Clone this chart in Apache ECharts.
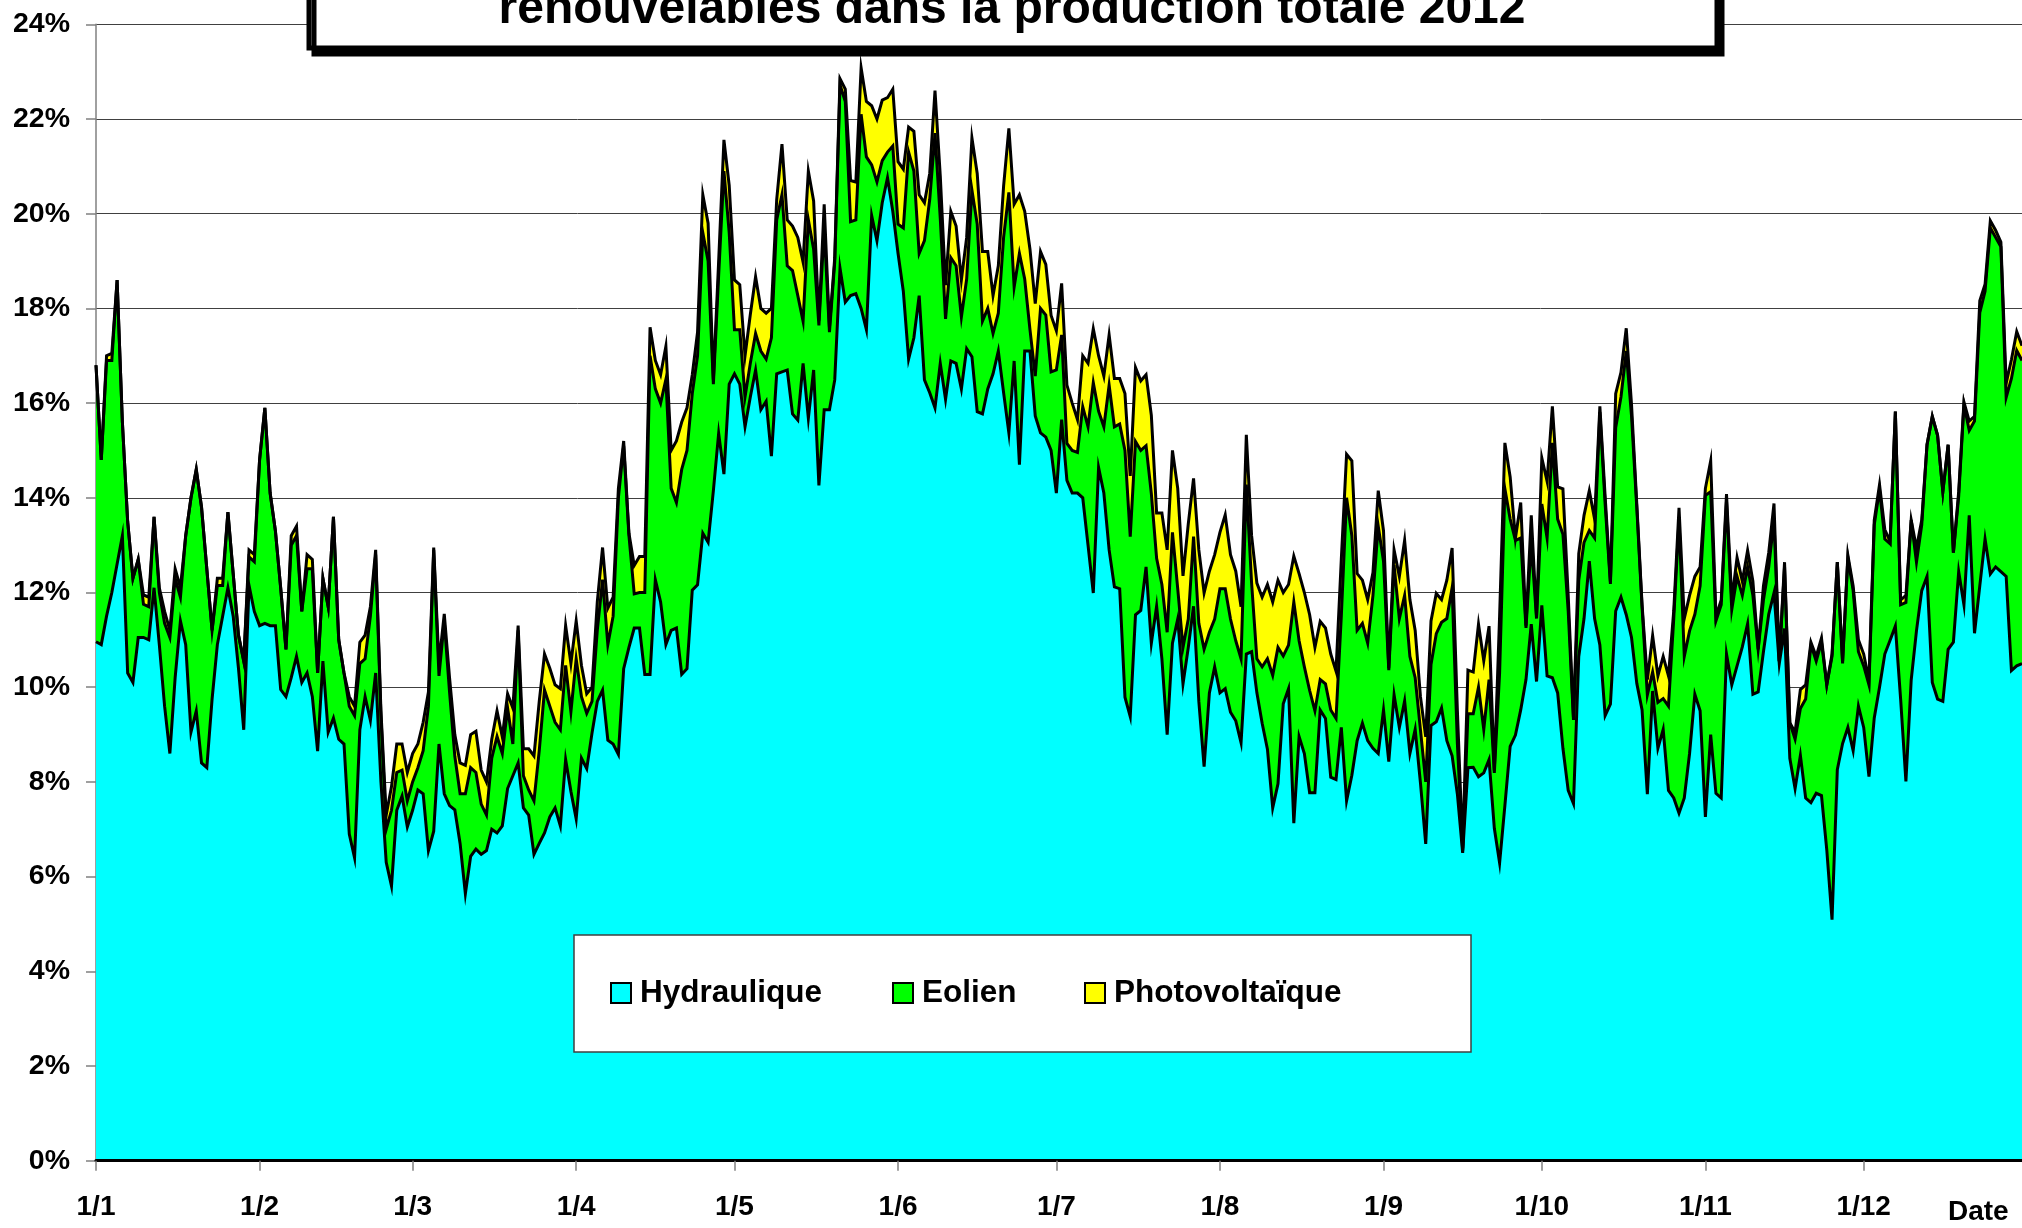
<!DOCTYPE html>
<html>
<head>
<meta charset="utf-8">
<script src="https://cdn.jsdelivr.net/npm/echarts@6/dist/echarts.min.js"></script>
<style>
  html, body { margin: 0; padding: 0; background: #fff; }
  #chart { width: 2022px; height: 1228px; }
</style>
</head>
<body>
<div id="chart"></div>
<script>
// daily share of each source in total production, 2012 (%), 1 Jan -> 31 Dec
const hydro = [
  10.96,10.90,11.50,12.00,12.60,13.20,10.30,10.10,11.05,11.05,
  11.00,12.10,10.90,9.60,8.60,10.20,11.40,10.90,9.05,9.50,
  8.40,8.30,9.75,10.90,11.50,12.10,11.50,10.40,9.10,12.15,
  11.60,11.30,11.35,11.30,11.30,9.95,9.80,10.20,10.65,10.10,
  10.30,9.80,8.65,10.55,9.05,9.35,8.90,8.80,6.90,6.40,
  9.10,9.80,9.30,10.30,8.00,6.30,5.80,7.40,7.70,7.05,
  7.40,7.83,7.75,6.55,6.96,8.80,7.75,7.50,7.41,6.70,
  5.64,6.43,6.58,6.47,6.55,7.00,6.92,7.07,7.86,8.13,
  8.40,7.45,7.30,6.47,6.70,6.92,7.26,7.45,7.07,8.47,
  7.80,7.22,8.50,8.28,9.03,9.70,9.94,8.88,8.80,8.58,
  10.39,10.84,11.25,11.25,10.27,10.27,12.27,11.80,10.90,11.20,
  11.25,10.27,10.39,12.05,12.16,13.25,13.06,14.15,15.36,14.50,
  16.40,16.62,16.40,15.50,16.13,16.70,15.86,16.04,14.88,16.62,
  16.66,16.70,15.77,15.64,16.84,15.68,16.70,14.26,15.86,15.86,
  16.49,18.85,18.13,18.27,18.31,18.00,17.55,19.96,19.43,20.23,
  20.76,20.05,19.16,18.36,16.93,17.38,18.27,16.49,16.22,15.90,
  16.84,16.08,16.89,16.84,16.30,17.15,16.98,15.82,15.77,16.30,
  16.62,17.10,16.22,15.37,16.89,14.70,17.10,17.10,15.73,15.37,
  15.28,15.00,14.10,15.65,14.37,14.10,14.10,14.00,13.00,11.99,
  14.64,14.10,12.90,12.12,12.08,9.79,9.38,11.53,11.62,12.54,
  10.93,11.71,10.60,9.00,10.93,11.44,10.07,10.84,11.71,9.70,
  8.32,9.88,10.43,9.88,9.97,9.47,9.29,8.83,10.70,10.75,
  9.88,9.24,8.69,7.45,7.96,9.65,9.97,7.13,8.96,8.60,
  7.77,7.77,9.52,9.34,8.10,8.05,9.15,7.60,8.14,8.87,
  9.24,8.87,8.71,8.60,9.52,8.43,9.84,9.15,9.71,8.60,
  9.11,7.98,6.69,9.19,9.27,9.56,8.87,8.55,7.74,6.50,
  8.30,8.31,8.11,8.19,8.47,7.02,6.29,7.50,8.75,8.99,
  9.52,10.16,11.33,10.12,11.73,10.24,10.20,9.88,8.71,7.82,
  7.54,10.65,11.45,12.66,11.45,10.89,9.40,9.64,11.61,11.90,
  11.53,11.05,10.08,9.52,7.74,9.92,8.71,9.11,7.82,7.66,
  7.34,7.66,8.60,9.85,9.50,7.26,9.00,7.76,7.66,10.70,
  10.05,10.45,10.85,11.34,9.85,9.90,10.75,11.54,11.99,10.50,
  11.24,8.50,7.86,8.56,7.66,7.56,7.76,7.71,6.57,5.09,
  8.26,8.81,9.15,8.66,9.60,9.15,8.11,9.35,10.00,10.70,
  10.99,11.29,9.75,8.01,10.15,11.19,12.04,12.34,10.10,9.75,
  9.70,10.80,10.95,12.44,11.74,13.63,11.14,12.14,13.13,12.39,
  12.54,12.44,12.34,10.35,10.45,10.50
];
const eolien = [
  5.84,3.90,5.40,4.90,6.00,2.40,3.20,2.20,1.65,0.70,
  0.70,1.50,1.10,1.75,2.45,2.10,0.50,2.30,4.95,5.10,
  5.40,4.20,1.45,1.25,0.65,1.60,0.90,0.70,1.45,0.60,
  1.05,3.50,4.55,2.80,2.00,2.15,1.00,2.80,2.55,1.50,
  2.20,2.70,1.65,1.75,2.65,4.25,2.10,1.50,2.70,3.00,
  1.40,0.80,2.20,2.50,1.40,0.70,1.60,0.80,0.55,0.55,
  0.60,0.47,0.91,3.05,5.94,1.44,3.65,2.40,1.13,1.05,
  2.11,1.87,1.62,1.06,0.75,1.50,2.04,1.53,1.70,0.67,
  2.80,0.68,0.53,1.13,1.96,3.02,2.34,1.81,2.03,1.99,
  1.68,3.38,1.30,1.17,0.67,1.50,2.33,2.02,2.70,5.42,
  4.71,2.36,0.72,0.75,1.73,6.73,4.03,4.20,5.60,3.00,
  2.65,4.33,4.61,4.15,4.84,6.35,5.94,2.25,3.34,6.40,
  3.20,0.93,1.15,0.63,0.71,0.77,1.24,0.89,2.50,3.25,
  3.74,2.20,3.03,2.63,0.89,4.19,2.55,3.38,3.84,1.64,
  2.49,3.87,4.24,1.56,1.56,4.10,3.65,1.07,1.24,0.89,
  0.54,1.38,0.62,1.34,4.37,3.52,0.89,2.94,4.08,5.80,
  3.06,1.70,2.18,2.06,1.52,1.47,3.52,3.96,1.96,1.70,
  0.85,0.80,3.28,5.08,1.56,4.46,1.52,0.45,0.84,2.63,
  2.58,1.66,2.60,1.79,0.78,0.90,0.86,1.92,2.50,4.44,
  1.19,1.40,3.48,3.38,3.48,5.21,3.80,3.66,3.38,2.56,
  3.16,1.01,1.57,2.16,2.34,0.64,0.77,0.60,1.47,1.65,
  2.48,1.28,1.01,2.20,2.11,1.97,1.69,1.77,3.58,1.45,
  0.72,1.19,1.91,2.80,2.88,1.01,0.92,4.67,2.02,1.83,
  2.16,1.73,0.64,0.73,1.42,1.29,2.35,6.40,5.06,2.33,
  2.11,2.06,3.23,4.80,3.14,1.93,2.74,2.30,2.23,2.05,
  1.09,1.12,1.31,1.29,1.86,1.81,2.58,3.55,1.06,0.05,
  1.14,1.13,1.89,0.92,1.69,1.17,4.01,6.69,4.80,4.11,
  3.63,1.09,1.73,1.33,2.14,2.91,4.96,3.67,4.52,3.79,
  1.77,1.61,1.61,0.65,1.70,4.92,4.47,2.54,3.87,4.23,
  5.57,4.68,3.71,2.17,2.10,0.40,0.97,0.65,1.78,3.79,
  6.21,2.99,2.59,1.69,2.64,6.79,5.13,3.64,4.08,3.23,
  1.59,1.89,1.09,1.20,2.09,0.90,1.09,1.00,1.54,0.05,
  1.30,0.75,1.04,0.99,2.09,3.34,2.79,3.24,3.48,5.56,
  4.38,1.69,3.59,3.38,1.15,1.30,1.94,4.08,4.18,2.43,
  2.04,4.53,1.99,3.78,3.38,1.45,1.39,2.78,5.62,5.57,
  4.43,4.32,1.89,1.59,4.23,1.79,4.48,5.77,5.23,7.31,
  6.96,6.86,3.78,6.17,6.66,6.40
];
const photovoltaique = [
  0,0,0.10,0.15,0,0,0,0,0,0.20,
  0.20,0,0.10,0.25,0.15,0.20,0.20,0,0,0,
  0,0,0,0.15,0.15,0,0,0,0,0.15,
  0.15,0,0,0,0,0,0,0.20,0.20,0,
  0.30,0.20,0,0,0,0,0,0,0.20,0.20,
  0.45,0.50,0.20,0.10,0.10,0.30,0.50,0.60,0.55,0.60,
  0.60,0.50,0.60,0.30,0.05,0.26,0.15,0.30,0.46,0.65,
  0.60,0.70,0.87,0.72,0.70,0.40,0.54,0.35,0.30,0.76,
  0.10,0.57,0.87,0.95,1.04,0.76,0.80,0.79,0.87,0.84,
  1.02,0.80,0.66,0.41,0.30,0.60,0.68,0.77,0.40,0.20,
  0.10,0.05,0.60,0.76,0.76,0.60,0.60,0.60,0.70,0.80,
  1.30,1.00,0.90,0.40,0.50,0.80,0.80,0.10,0.30,0.66,
  1.00,1.05,0.95,0.87,1.03,1.20,0.90,0.97,0.62,0.43,
  1.07,0.97,0.94,1.23,1.25,1.03,1.02,0.10,0.50,0.10,
  0.09,0.13,0.26,0.87,0.80,0.98,1.17,1.25,1.33,1.28,
  1.15,1.20,1.32,1.24,0.53,0.84,1.24,0.80,0.55,0.90,
  0.90,0.71,0.98,0.84,0.78,0.88,1.10,1.07,1.47,1.20,
  0.80,1.00,1.08,1.35,1.75,1.24,1.43,1.70,1.53,1.20,
  1.07,1.19,0.83,1.09,1.23,1.00,0.69,1.08,1.34,1.14,
  1.17,1.07,1.06,1.02,0.96,1.20,1.28,1.56,1.47,1.50,
  1.65,0.96,1.51,1.74,1.73,2.12,1.51,2.01,1.23,1.55,
  1.19,1.29,1.36,1.19,1.56,1.36,1.47,1.10,1.05,1.00,
  1.60,1.47,1.57,1.55,1.42,1.34,1.28,0.97,1.42,1.57,
  1.60,1.34,1.23,1.18,1.18,1.00,1.20,0.92,1.58,1.20,
  0.91,0.92,0.48,0.75,0.64,0.04,0.32,0.89,1.16,1.20,
  1.00,0.70,0.95,0.92,0.85,0.48,0.81,0.84,0.70,0.05,
  0.92,0.88,1.33,1.45,1.13,0.05,1.20,0.97,0.89,0.05,
  0.75,0.05,0.57,0.05,0.97,1.20,0.77,0.68,0.96,0.33,
  0.05,0.56,0.57,0.84,0.40,0.12,0.16,0.05,0.72,0.52,
  0.48,0.24,0.08,0.05,0.32,0.77,0.56,0.89,0.64,0.16,
  0.24,0.80,0.75,0.80,0.40,0.15,0.65,0.10,0.10,0.15,
  0.20,0.40,0.30,0.35,0.30,0,0.30,0.30,0.35,0,
  0.10,0,0.15,0.40,0.30,0.05,0.10,0.09,0,0.05,
  0,0.05,0.05,0.10,0.25,0.25,0.10,0.10,0.10,0.20,
  0.05,0,0.10,0.15,0,0.30,0.10,0,0,0,
  0,0,0,0.10,0.05,0.20,0.10,0.25,0.15,0.15,
  0.15,0.10,0.30,0.40,0.40,0.31
];

// one category per day, labelled "jour/mois"
const days = [];
for (let d = 0; d < 366; d++) {
  const t = new Date(2012, 0, 1 + d);
  days.push(t.getDate() + '/' + (t.getMonth() + 1));
}
const monthStart = (i, v) => v.startsWith('1/');

const FONT = '"Liberation Sans", Arial, sans-serif';

const chart = echarts.init(document.getElementById('chart'));

const area = (name, data, color) => ({
  name: name,
  type: 'line',
  stack: 'total',
  data: data,
  symbol: 'none',
  itemStyle: { color: color },
  lineStyle: { color: '#000', width: 3, join: 'miter' },
  areaStyle: { color: color, opacity: 1 },
  emphasis: { disabled: true },
});

const legendBase = {
  icon: 'rect',
  itemWidth: 20,
  itemHeight: 20,
  padding: 0,
  top: 977,
  z: 20,
  selectedMode: false,
  itemStyle: { borderColor: '#000', borderWidth: 2 },
  textStyle: { fontFamily: FONT, fontWeight: 'bold', fontSize: 31.5, color: '#000', padding: [0, 0, 0, 4] },
};

chart.setOption({
  animation: false,
  backgroundColor: '#fff',
  grid: { left: 96, top: 24.3, width: 1928.7, height: 1136.4 },
  xAxis: {
    type: 'category',
    data: days,
    boundaryGap: false,
    z: 5,
    axisLine: { lineStyle: { color: '#000', width: 3 } },
    axisTick: { interval: monthStart, length: 10, lineStyle: { color: '#808080', width: 1.5 } },
    axisLabel: {
      interval: monthStart,
      margin: 47,
      verticalAlign: 'middle',
      color: '#000',
      fontFamily: FONT,
      fontWeight: 'bold',
      fontSize: 28,
    },
    splitLine: { show: false },
  },
  yAxis: {
    type: 'value',
    min: 0,
    max: 24,
    interval: 2,
    axisLine: { show: true, lineStyle: { color: '#808080', width: 1.5 } },
    axisTick: { show: true, length: 10, lineStyle: { color: '#808080', width: 1.5 } },
    axisLabel: {
      formatter: '{value}%',
      margin: 26,
      color: '#000',
      fontFamily: FONT,
      fontWeight: 'bold',
      fontSize: 28.5,
    },
    splitLine: { lineStyle: { color: '#404040', width: 1 } },
  },
  legend: [
    Object.assign({}, legendBase, { left: 610, data: ['Hydraulique'] }),
    Object.assign({}, legendBase, { left: 892, data: ['Eolien'] }),
    Object.assign({}, legendBase, { left: 1084, data: ['Photovoltaïque'] }),
  ],
  graphic: [
    {
      type: 'rect', z: 10,
      shape: { x: 574, y: 935, width: 897, height: 117 },
      style: { fill: '#fff', stroke: '#404040', lineWidth: 1.5 },
    },
    {
      type: 'rect', z: 10,
      shape: { x: 309, y: -70, width: 1408, height: 118 },
      style: { fill: '#fff', stroke: '#000', lineWidth: 5, shadowColor: '#000', shadowOffsetX: 5, shadowOffsetY: 6, shadowBlur: 0 },
    },
    {
      type: 'text', z: 11, x: 1012, y: 10,
      style: {
        text: 'renouvelables dans la production totale 2012',
        font: 'bold 48px ' + FONT, fill: '#000',
        textAlign: 'center', textVerticalAlign: 'middle',
      },
    },
    {
      type: 'text', z: 11, x: 1948, y: 1212,
      style: { text: 'Date', font: 'bold 28px ' + FONT, fill: '#000', textVerticalAlign: 'middle' },
    },
  ],
  series: [
    area('Hydraulique', hydro, '#00ffff'),
    area('Eolien', eolien, '#00ff00'),
    area('Photovoltaïque', photovoltaique, '#ffff00'),
  ],
});
</script>
</body>
</html>
